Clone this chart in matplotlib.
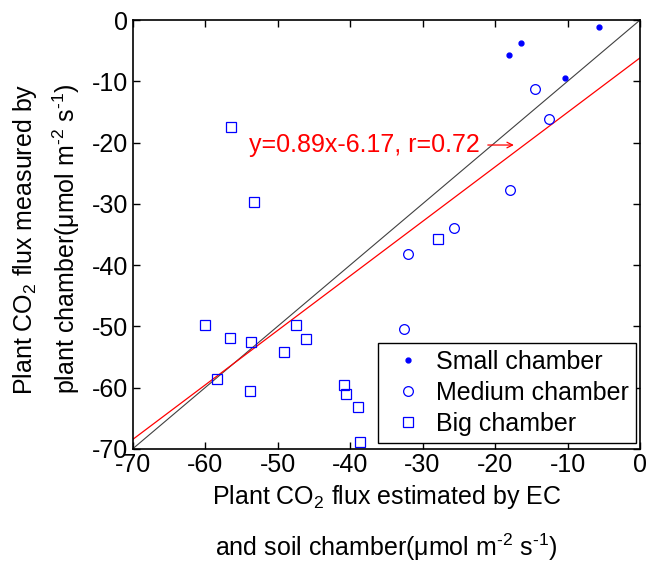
import matplotlib
matplotlib.use("Agg")
import matplotlib.pyplot as plt
import numpy as np

plt.rcParams['font.family'] = ['Liberation Sans', 'DejaVu Sans']
plt.rcParams['mathtext.fontset'] = 'custom'
plt.rcParams['mathtext.rm'] = 'Liberation Sans'
plt.rcParams['mathtext.it'] = 'Liberation Sans:italic'
plt.rcParams['axes.unicode_minus'] = False

# Data
small_x = [-18.1, -16.4, -5.7, -10.4]
small_y = [-5.7, -3.8, -1.2, -9.4]

medium_x = [-14.5, -12.6, -18.0, -25.7, -32.0, -32.5]
medium_y = [-11.2, -16.2, -27.8, -34.0, -38.2, -50.4]

big_x = [-56.4, -53.3, -27.9, -60.0, -56.5, -53.7, -47.5, -46.1, -49.1,
         -58.3, -53.8, -40.8, -40.6, -38.9, -38.6]
big_y = [-17.4, -29.7, -35.7, -49.8, -51.9, -52.6, -49.8, -52.0, -54.2,
         -58.6, -60.6, -59.5, -61.0, -63.2, -68.8]

fit_slope = 0.89
fit_intercept = -6.17
fit_label = "y=0.89x-6.17, r=0.72"

xticks = [-70, -60, -50, -40, -30, -20, -10, 0]
yticks = [-70, -60, -50, -40, -30, -20, -10, 0]

fs = 18

fig = plt.figure(figsize=(6.6, 5.62), dpi=100)
ax = fig.add_axes([0.2008, 0.2011, 0.769, 0.7633])

# Lines
xl = np.array([-70, 0])
ax.plot(xl, xl, color='#404040', lw=0.8)
ax.plot(xl, fit_slope * xl + fit_intercept, color='red', lw=0.9)

ax.plot(small_x, small_y, linestyle='none', marker='.', color='blue',
        markersize=7, label='Small chamber')
ax.plot(medium_x, medium_y, linestyle='none', marker='o', mfc='none',
        mec='blue', markersize=7, mew=0.9, label='Medium chamber')
ax.plot(big_x, big_y, linestyle='none', marker='s', mfc='none',
        mec='blue', markersize=7, mew=0.9, label='Big chamber')

ax.text(-54, -20.4, fit_label, color='red', fontsize=fs, va='center', ha='left')
ax.annotate('', xy=(-17.4, -20.4), xytext=(-21.0, -20.4),
            arrowprops=dict(arrowstyle='->', color='red', lw=0.9,
                            shrinkA=0, shrinkB=0))

ax.set_xlim(-70, 0)
ax.set_ylim(-70, 0)
ax.set_xticks(xticks)
ax.set_yticks(yticks)
ax.tick_params(direction='in', top=True, right=True, labelsize=fs,
               length=5, width=1, pad=3)
for s in ax.spines.values():
    s.set_linewidth(1.2)

unit = "(\u03bcmol m$^{\\text{-2}}$ s$^{\\text{-1}}$)"
ax.set_xlabel("Plant CO$_2$ flux estimated by EC\nand soil chamber" + unit,
              fontsize=fs, linespacing=1.85, labelpad=4)
ax.set_ylabel("Plant CO$_2$ flux measured by\nplant chamber" + unit,
              fontsize=fs, linespacing=1.45)
ax.yaxis.set_label_coords(-0.10, 0.49)

leg = ax.legend(loc='lower right', bbox_to_anchor=(0.992, 0.014),
                borderaxespad=0, fontsize=fs, fancybox=False, framealpha=1,
                edgecolor='black', labelspacing=0.28, handlelength=1.84,
                handletextpad=0.2, borderpad=0.28)
leg.get_frame().set_linewidth(1.0)

fig.savefig("out.png", dpi=100)
